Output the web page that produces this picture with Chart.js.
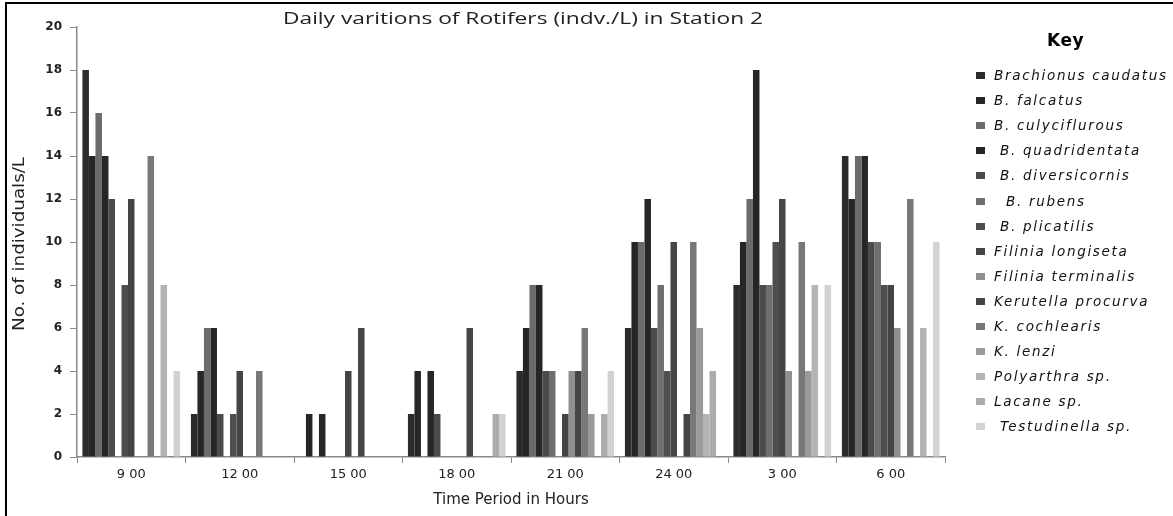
<!DOCTYPE html>
<html>
<head>
<meta charset="utf-8">
<title>Daily varitions of Rotifers (indv./L) in Station 2</title>
<script src="https://cdn.jsdelivr.net/npm/chart.js@4.4.0/dist/chart.umd.min.js"></script>
<style>
    html, body { margin: 0; padding: 0; background: #fff; }
    #wrap { position: relative; width: 1173px; height: 516px; overflow: hidden; }
    #frame {
        position: absolute; left: 5px; top: 2px; width: 1300px; height: 700px;
        border-left: 2px solid #000; border-top: 2px solid #000;
    }
    #chart { position: absolute; left: 0; top: 0; }
    #key { position: absolute; left: 0; top: 0; width: 1173px; height: 516px; pointer-events: none; }
    #key .title {
        position: absolute; left: 1047px; top: 30px;
        font: bold 17px "DejaVu Sans", sans-serif; letter-spacing: 0.6px; color: #000;
    }
    #key .item {
        position: absolute; left: 976px; height: 16px; line-height: 16px;
        font: oblique 13.5px "DejaVu Sans", sans-serif; letter-spacing: 1.7px; color: #111;
        white-space: nowrap;
    }
    #key .swatch { display: inline-block; width: 9px; height: 7px; margin-right: 9px; vertical-align: 1px; }
</style>
</head>
<body>
<div id="wrap">
    <canvas id="chart" width="1173" height="516"></canvas>
    <div id="frame"></div>
    <div id="key"></div>
</div>
<script>
// Time periods (x categories)
const hours = ['9 00', '12 00', '15 00', '18 00', '21 00', '24 00', '3 00', '6 00'];

// Species, in key order (spelling as printed on the chart)
const species = [
    'Brachionus caudatus', 'B. falcatus', 'B. culyciflurous', ' B. quadridentata',
    ' B. diversicornis', '  B. rubens', ' B. plicatilis', 'Filinia longiseta',
    'Filinia terminalis', 'Kerutella procurva', 'K. cochlearis', 'K. lenzi',
    'Polyarthra sp.', 'Lacane sp.', ' Testudinella sp.'
];

const greys = [
    '#2b2b2b', '#262626', '#6b6b6b', '#262626', '#4b4b4b',
    '#6f6f6f', '#4e4e4e', '#454545', '#8f8f8f', '#454545',
    '#787878', '#9a9a9a', '#b4b4b4', '#acacac', '#d2d2d2'
];

// individuals per litre, one array per species, same order as hours
const brachionusCaudatus = [18, 2, 0, 2, 4, 6, 8, 14];
const bFalcatus          = [14, 4, 2, 4, 6, 10, 10, 12];
const bCalyciflorus      = [16, 6, 0, 0, 8, 10, 12, 14];
const bQuadridentata     = [14, 6, 2, 4, 8, 12, 18, 14];
const bDiversicornis     = [12, 2, 0, 2, 4, 6, 8, 10];
const bRubens            = [0, 0, 0, 0, 4, 8, 8, 10];
const bPlicatilis        = [8, 2, 0, 0, 0, 4, 10, 8];
const filiniaLongiseta   = [12, 4, 4, 0, 2, 10, 12, 8];
const filiniaTerminalis  = [0, 0, 0, 0, 4, 0, 4, 6];
const keratellaProcurva  = [0, 0, 6, 6, 4, 2, 0, 0];
const kCochlearis        = [14, 4, 0, 0, 6, 10, 10, 12];
const kLenzi             = [0, 0, 0, 0, 2, 6, 4, 0];
const polyarthra         = [8, 0, 0, 0, 0, 2, 8, 6];
const lacane             = [0, 0, 0, 2, 2, 4, 0, 0];
const testudinella       = [4, 0, 0, 2, 4, 0, 8, 10];

const yTicks = [0, 2, 4, 6, 8, 10, 12, 14, 16, 18, 20];

const seriesValues = [
    brachionusCaudatus, bFalcatus, bCalyciflorus, bQuadridentata, bDiversicornis,
    bRubens, bPlicatilis, filiniaLongiseta, filiniaTerminalis, keratellaProcurva,
    kCochlearis, kLenzi, polyarthra, lacane, testudinella
];

const TITLE = 'Daily varitions of Rotifers (indv./L) in Station 2';
const Y_TITLE = 'No. of individuals/L';

// squeeze/stretch a line of text to a given width
function fillStretched(ctx, text, x, y, width) {
    const w = ctx.measureText(text).width;
    ctx.save();
    ctx.translate(x, y);
    ctx.scale(width / w, 1);
    ctx.fillText(text, 0, 0);
    ctx.restore();
}

// chart title sits a bit right of the plot centre and the y title is tall and
// narrow, so both are drawn by hand
const titlesPlugin = {
    id: 'handTitles',
    afterDraw(chart) {
        const { ctx, chartArea } = chart;
        ctx.save();
        ctx.fillStyle = '#222';
        ctx.textAlign = 'center';
        ctx.textBaseline = 'alphabetic';
        ctx.font = '17px "Open Sans", sans-serif';
        fillStretched(ctx, TITLE, (chartArea.left + chartArea.right) / 2 + 12, 24, 480);

        ctx.translate(24, (chartArea.top + chartArea.bottom) / 2 + 2);
        ctx.rotate(-Math.PI / 2);
        ctx.font = '16px "DejaVu Sans Condensed", "DejaVu Sans", sans-serif';
        fillStretched(ctx, Y_TITLE, 0, 0, 174);
        ctx.restore();
    }
};

const axisGrey = '#8a8a8a';

new Chart(document.getElementById('chart'), {
    type: 'bar',
    data: {
        labels: hours,
        datasets: seriesValues.map((vals, i) => ({
            label: species[i].trim(),
            data: vals,
            backgroundColor: greys[i],
            borderWidth: 0,
            barPercentage: 1,
            categoryPercentage: 0.9
        }))
    },
    options: {
        responsive: false,
        animation: false,
        layout: { padding: { left: 8, right: 228, top: 27, bottom: 0 } },
        plugins: {
            legend: { display: false },
            title: { display: false },
            tooltip: { enabled: false }
        },
        scales: {
            x: {
                afterFit: (scale) => { scale.height = 59; },
                grid: { drawOnChartArea: false, drawTicks: true, tickLength: 6, color: axisGrey, offset: true },
                border: { color: axisGrey, width: 1.5 },
                ticks: { color: '#222', padding: 4, font: { family: 'DejaVu Sans', size: 13 } },
                title: {
                    display: true, text: 'Time Period in Hours', color: '#222',
                    font: { family: 'DejaVu Sans', size: 15 }, padding: { top: 0, bottom: 7 }
                }
            },
            y: {
                min: 0, max: 20,
                afterFit: (scale) => { scale.width = 69; },
                afterBuildTicks: (scale) => { scale.ticks = yTicks.map(v => ({ value: v })); },
                grid: { drawOnChartArea: false, drawTicks: true, tickLength: 7, color: axisGrey },
                border: { color: axisGrey, width: 1.5 },
                ticks: { color: '#222', padding: 8, font: { family: 'DejaVu Sans', size: 12, weight: 'bold' } },
                title: { display: false }
            }
        }
    },
    plugins: [titlesPlugin]
});

// HTML key on the right
const key = document.getElementById('key');
const keyTitle = document.createElement('div');
keyTitle.className = 'title';
keyTitle.textContent = 'Key';
key.appendChild(keyTitle);
species.forEach((name, i) => {
    const row = document.createElement('div');
    row.className = 'item';
    row.style.top = (75 + i * 25.1 - 8) + 'px';
    const sw = document.createElement('span');
    sw.className = 'swatch';
    sw.style.background = greys[i];
    row.appendChild(sw);
    row.appendChild(document.createTextNode(name.replace(/^ +/, m => '\u00a0'.repeat(m.length))));
    key.appendChild(row);
});
</script>
</body>
</html>
